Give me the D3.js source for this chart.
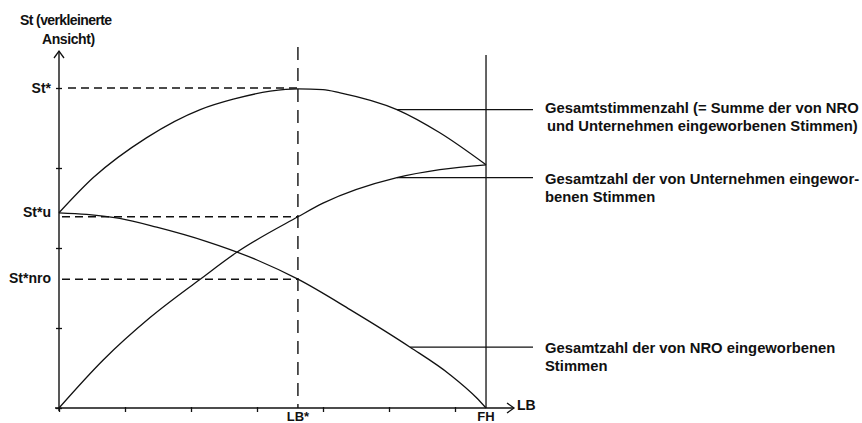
<!DOCTYPE html>
<html>
<head>
<meta charset="utf-8">
<script src="https://cdn.jsdelivr.net/npm/d3@7"></script>
<style>
  body { margin: 0; background: #fff; }
  svg text { font-family: "Liberation Sans", Arial, sans-serif; font-weight: bold; fill: #111; }
</style>
</head>
<body>
<div id="chart"></div>
<script>
// values (x in LB tick units, y in St tick units)
var xTicks = [0, 1, 2, 3, 4, 5, 6];
var yTicks = [0, 1, 2, 3, 4];
var lbStar = 3.62, fh = 6.47;
var stStar = 4.0, stU = 2.39, stNro = 1.61;

var totalVotes = [[0, 2.44], [0.52, 2.88], [1.33, 3.38], [2.14, 3.73], [2.64, 3.86], [3.20, 3.96],
                  [3.62, 3.99], [4.0, 3.98], [4.26, 3.94], [5.12, 3.73], [5.77, 3.44], [6.47, 3.04]];
var companyVotes = [[0, 0], [0.67, 0.6], [1.38, 1.13], [2.14, 1.61], [2.70, 1.95], [3.62, 2.39],
                    [4.0, 2.56], [5.12, 2.88], [5.77, 2.98], [6.47, 3.04]];
var nroVotes = [[0, 2.44], [0.42, 2.42], [0.92, 2.37], [1.48, 2.26], [2.24, 2.08], [3.0, 1.85],
                [3.62, 1.61], [4.41, 1.23], [5.32, 0.76], [5.92, 0.42], [6.33, 0.125], [6.47, 0]];

var yLabels = ["St*", "St*u", "St*nro"];
var xLabels = ["LB*", "FH"];
var seriesLabels = [
  ["Gesamtstimmenzahl (= Summe der von NRO", "und Unternehmen eingeworbenen Stimmen)"],
  ["Gesamtzahl der von Unternehmen eingewor-", "benen Stimmen"],
  ["Gesamtzahl der von NRO eingeworbenen", "Stimmen"]
];
var labelAnchorX = [5.12, 5.12, 5.32];

var width = 862, height = 423;

var svg = d3.select("#chart").append("svg")
    .attr("width", width)
    .attr("height", height);

var x = d3.scaleLinear().domain([0, 7]).range([59, 521]);
var y = d3.scaleLinear().domain([0, 4]).range([408, 88]);

svg.append("marker")
   .attr("id", "arrow")
   .attr("markerWidth", 10)
   .attr("markerHeight", 12)
   .attr("markerUnits", "userSpaceOnUse")
   .attr("orient", "auto")
   .attr("refX", 8)
   .attr("refY", 6)
   .append("path")
   .attr("d", "M 1,1 L 8,6 L 1,11")
   .attr("fill", "none")
   .attr("stroke", "#111")
   .attr("stroke-width", 1.3);

// axes lines with arrows
svg.append("line")
   .attr("x1", x(0)).attr("y1", y(0) + 3)
   .attr("x2", x(0)).attr("y2", 51)
   .attr("stroke", "#111").attr("stroke-width", 1.4)
   .attr("marker-end", "url(#arrow)");

svg.append("line")
   .attr("x1", x(0) - 4).attr("y1", y(0))
   .attr("x2", 514).attr("y2", y(0))
   .attr("stroke", "#111").attr("stroke-width", 1.4)
   .attr("marker-end", "url(#arrow)");

// ticks
svg.append("g")
   .attr("transform", "translate(0," + (y(0) - 1) + ")")
   .call(d3.axisBottom(x).tickValues(xTicks).tickSize(5).tickFormat(""));
svg.append("g")
   .attr("transform", "translate(" + (x(0) + 3) + ",0)")
   .call(d3.axisLeft(y).tickValues(yTicks).tickSize(6).tickFormat(""));
svg.selectAll(".domain").remove();
svg.selectAll(".tick line").attr("stroke", "#111").attr("stroke-width", 1.3);

// FH vertical line
svg.append("line")
   .attr("x1", x(fh)).attr("y1", 55)
   .attr("x2", x(fh)).attr("y2", y(0))
   .attr("stroke", "#111").attr("stroke-width", 1.3);

// dashed guide lines
svg.append("line")
   .attr("x1", x(lbStar)).attr("y1", 47)
   .attr("x2", x(lbStar)).attr("y2", y(0))
   .attr("stroke", "#111").attr("stroke-width", 1.4)
   .attr("stroke-dasharray", "13,8");

[stStar, stU, stNro].forEach(function(v, i) {
  svg.append("line")
     .attr("x1", i == 0 ? 68 : 62).attr("y1", y(v))
     .attr("x2", x(lbStar)).attr("y2", y(v))
     .attr("stroke", "#111").attr("stroke-width", 1.4)
     .attr("stroke-dasharray", "8,5");
});

// curves
var line = d3.line()
   .x(function(d) { return x(d[0]); })
   .y(function(d) { return y(d[1]); })
   .curve(d3.curveMonotoneX);

var allSeries = [totalVotes, companyVotes, nroVotes];

svg.append("g").selectAll("path")
   .data(allSeries)
   .enter()
   .append("path")
   .attr("d", line)
   .attr("fill", "none")
   .attr("stroke", "#111")
   .attr("stroke-width", 1.3);

// leader lines + labels
allSeries.forEach(function(s, i) {
  var p = s.filter(function(d) { return d[0] == labelAnchorX[i]; })[0];
  var ly = y(p[1]);
  svg.append("line")
     .attr("x1", x(p[0])).attr("y1", ly)
     .attr("x2", 533).attr("y2", ly)
     .attr("stroke", "#111").attr("stroke-width", 1.3);
  var t = svg.append("text")
     .attr("x", 545)
     .attr("y", ly + (i == 0 ? 3 : 6))
     .style("font-size", "14.8px");
  seriesLabels[i].forEach(function(txt, j) {
    t.append("tspan")
     .attr("x", 545 + (i == 0 && j == 1 ? 2 : 0))
     .attr("dy", j == 0 ? 0 : 18)
     .text(txt);
  });
});

// y-axis title
svg.append("text").attr("x", 20).attr("y", 25).style("font-size", "14px")
   .style("letter-spacing", "-0.6px").text("St (verkleinerte");
svg.append("text").attr("x", 42).attr("y", 44).style("font-size", "14px")
   .style("letter-spacing", "-0.4px").text("Ansicht)");

// value labels on y axis
var yLabelPos = [y(stStar), y(nroVotes[0][1]) - 1, y(stNro) - 1];
yLabels.forEach(function(l, i) {
  svg.append("text")
     .attr("x", 51)
     .attr("y", yLabelPos[i] + 5)
     .attr("text-anchor", "end")
     .style("font-size", "14px")
     .text(l);
});

// value labels on x axis
[lbStar, fh].forEach(function(v, i) {
  svg.append("text")
     .attr("x", x(v))
     .attr("y", 421)
     .attr("text-anchor", "middle")
     .style("font-size", "13px")
     .text(xLabels[i]);
});

svg.append("text").attr("x", 517).attr("y", 410).style("font-size", "14px").text("LB");
</script>
</body>
</html>
